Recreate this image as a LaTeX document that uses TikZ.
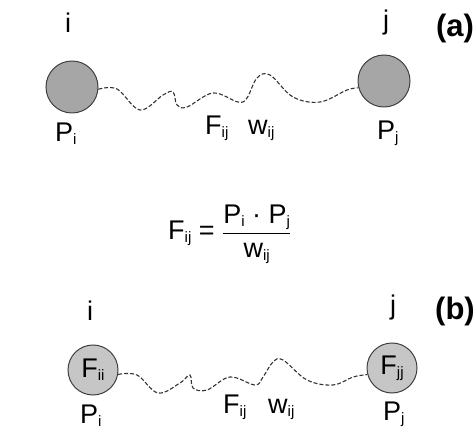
\documentclass[tikz,border=0pt]{standalone}
\usepackage{amsmath}
\usepackage{fontspec}
\setmainfont{Liberation Sans}
\usetikzlibrary{positioning}
\newcommand{\lowidx}[1]{\raisebox{-3pt}{\fontsize{15}{15}\selectfont #1}}

\begin{document}
\begin{tikzpicture}[x=1pt,y=-1pt]
\tikzstyle{bead}=[circle, draw=black!75, line width=1pt, fill=gray!70, minimum size=52pt, inner sep=0pt, font=\fontsize{27}{29}\selectfont]
\tikzstyle{lbl}=[font=\fontsize{27}{29}\selectfont, inner sep=0pt, anchor=base west]
\tikzstyle{tag}=[font=\fontsize{31}{33}\selectfont\bfseries, inner sep=0pt]
\tikzstyle{spring}=[draw=black!80, line width=1.1pt, dash pattern=on 4pt off 2pt]
\useasboundingbox (0,0) rectangle (476,435);

\node (ci) [bead] at (72,87) {};
\node (cj) [bead] at (384,81) {};
\node (li) [lbl, anchor=base] at (68,33) {i};
\node (lj) [lbl, anchor=base] at (386,30) {j};
\node (taga) [tag] at (455,28) {(a)};
\node (pi) [lbl] at (55,142) {P\lowidx{i}};
\node (pj) [lbl] at (377,140) {P\lowidx{j}};
\node (fij) [lbl] at (205,135) {F\lowidx{ij}};
\node (wij) [lbl] at (248,135) {w\lowidx{ij}};
\draw [spring] plot[smooth, tension=0.6] coordinates {(ci.-5) (117,89) (140,110) (163,95) (173,92) (177,105) (187,107) (213,93) (238,102) (247,98) (257,78) (270,75) (293,97) (320,102) (347,90) (cj.195)};

\node (rule) [lbl] at (168,240) {F\lowidx{ij} = $\dfrac{\text{P\lowidx{i}\;·\;P\lowidx{j}}}{\text{w\lowidx{ij}}}$};

\node (bi) [bead, fill=gray!45, minimum size=50pt] at (93,370) {F\lowidx{ii}};
\node (bj) [bead, fill=gray!45, minimum size=50pt] at (392,368) {F\lowidx{jj}};
\node (bli) [lbl, anchor=base] at (90,320) {i};
\node (blj) [lbl, anchor=base] at (393,315) {j};
\node (tagb) [tag] at (455,311) {(b)};
\node (bpi) [lbl] at (80,423) {P\lowidx{i}};
\node (bpj) [lbl] at (383,420) {P\lowidx{j}};
\node (bfij) [lbl] at (223,413) {F\lowidx{ij}};
\node (bwij) [lbl] at (268,413) {w\lowidx{ij}};
\draw [spring] plot[smooth, tension=0.6] coordinates {(bi.-10) (137,375) (158,393) (180,383) (190,375) (193,388) (207,390) (230,377) (255,385) (263,377) (273,362) (283,360) (307,380) (333,385) (353,377) (bj.195)};

\end{tikzpicture}
\end{document}
